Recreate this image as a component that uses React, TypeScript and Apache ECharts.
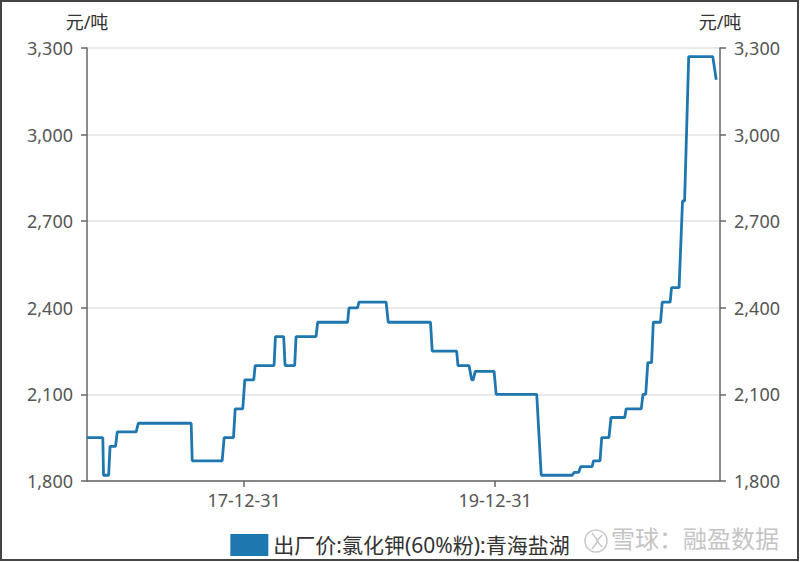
import React, { useEffect, useRef } from "react";
import * as echarts from "echarts";

// Price levels: each level holds its value from start date to end date
const levelStarts = ['2016-09-30','2016-11-17','2016-12-06','2016-12-27','2017-02-26','2017-08-02','2017-11-03','2017-12-05','2018-01-02','2018-02-01','2018-04-01','2018-04-29','2018-05-31','2018-08-02','2018-11-01','2018-11-30','2019-02-23','2019-07-01','2019-09-14','2019-10-24','2019-11-03','2020-01-03','2020-05-13','2020-08-17','2020-09-05','2020-10-12','2020-11-05','2020-12-02','2021-01-15','2021-03-05','2021-03-19','2021-04-04','2021-04-30','2021-05-27','2021-06-28','2021-07-16','2021-10-04'];
const levelEnds = ['2016-11-15','2016-12-02','2016-12-22','2017-02-20','2017-07-30','2017-10-28','2017-11-30','2017-12-27','2018-01-28','2018-03-28','2018-04-25','2018-05-27','2018-07-28','2018-10-28','2018-11-26','2019-02-17','2019-06-26','2019-09-10','2019-10-16','2019-10-28','2019-12-28','2020-04-30','2020-08-11','2020-08-30','2020-10-08','2020-10-31','2020-11-26','2021-01-11','2021-02-28','2021-03-13','2021-03-30','2021-04-25','2021-05-23','2021-06-18','2021-07-04','2021-09-24','2021-10-04'];
const levelValues = [1950,1820,1920,1970,2000,1870,1950,2050,2150,2200,2300,2200,2300,2350,2400,2420,2350,2250,2200,2150,2180,2100,1820,1830,1850,1870,1950,2020,2050,2100,2210,2350,2420,2470,2770,3270,3190];

const seriesName = "出厂价:氯化钾(60%粉):青海盐湖";
const unitName = "元/吨";
const xTickDates = ['2017-12-31', '2019-12-31'];
const xRange = ['2016-09-30', '2021-10-15'];
const yMin = 1800;
const yMax = 3300;
const yInterval = 300;

function toTime(s: string): number {
  const [y, m, d] = s.split('-').map(Number);
  return Date.UTC(y, m - 1, d);
}
function fmt(v: number): string {
  const d = new Date(v);
  const yy = String(d.getUTCFullYear() % 100).padStart(2, '0');
  const mm = String(d.getUTCMonth() + 1).padStart(2, '0');
  const dd = String(d.getUTCDate()).padStart(2, '0');
  return `${yy}-${mm}-${dd}`;
}

export default function App() {
  const ref = useRef<HTMLDivElement>(null);
  useEffect(() => {
    if (!ref.current) return;
    const chart = echarts.init(ref.current, undefined, { renderer: "svg" });
    const data: [number, number][] = [];
    levelValues.forEach((v, i) => {
      data.push([toTime(levelStarts[i]), v]);
      if (levelEnds[i] !== levelStarts[i]) data.push([toTime(levelEnds[i]), v]);
    });
    const font = "'Noto Sans', 'Noto Sans CJK SC', sans-serif";
    const yAxisCommon = {
      type: 'value',
      min: yMin,
      max: yMax,
      interval: yInterval,
      name: unitName,
      nameLocation: 'end',
      nameGap: 17,
      nameTextStyle: { color: '#333', fontSize: 18, fontFamily: font },
      axisLine: { show: true, lineStyle: { color: '#666', width: 1.5 } },
      axisTick: { show: true, length: 6, lineStyle: { color: '#666', width: 1.5 } },
      axisLabel: {
        color: '#555', fontSize: 18, fontFamily: font, margin: 14,
        formatter: (v: number) => v.toLocaleString('en-US'),
      },
    };
    const tickVals = xTickDates.map(toTime);
    chart.setOption({
      animation: false,
      backgroundColor: '#fff',
      grid: { left: 87, right: 80, top: 48, bottom: 81 },
      xAxis: {
        type: 'value',
        min: toTime(xRange[0]),
        max: toTime(xRange[1]),
        axisLine: { lineStyle: { color: '#666', width: 1.5 } },
        axisTick: { show: true, length: 6, customValues: tickVals, lineStyle: { color: '#666', width: 1.5 } },
        axisLabel: {
          customValues: tickVals,
          formatter: (v: number) => fmt(v),
          color: '#555', fontSize: 18, fontFamily: font, margin: 10,
        },
        splitLine: { show: false },
      },
      yAxis: [
        { ...yAxisCommon, position: 'left', splitLine: { show: true, lineStyle: { color: '#e3e3e3', width: 1.5 } } },
        { ...yAxisCommon, position: 'right', splitLine: { show: false } },
      ],
      legend: {
        bottom: 1,
        left: 'center',
        icon: 'rect',
        itemWidth: 38,
        itemHeight: 22,
        itemGap: 10,
        textStyle: { color: '#333', fontSize: 21, fontFamily: font },
        data: [seriesName],
      },
      series: [
        {
          name: seriesName,
          type: 'line',
          yAxisIndex: 0,
          showSymbol: false,
          symbol: 'none',
          data,
          lineStyle: { color: '#1f77b0', width: 2.8 },
          itemStyle: { color: '#1f77b0' },
        },
      ],
      graphic: [
        {
          type: 'rect',
          shape: { x: 1, y: 1, width: 797, height: 559 },
          style: { fill: 'none', stroke: '#444', lineWidth: 2 },
          silent: true,
        },
        {
          type: 'circle',
          shape: { cx: 596, cy: 541, r: 11 },
          style: { fill: 'none', stroke: '#c8c8c8', lineWidth: 1.5 },
          silent: true,
        },
        {
          type: 'polyline',
          shape: { points: [[592, 533], [598, 541], [592, 549]] },
          style: { fill: 'none', stroke: '#c8c8c8', lineWidth: 1.5 },
          silent: true,
        },
        {
          type: 'polyline',
          shape: { points: [[602, 535], [597, 541], [602, 547]] },
          style: { fill: 'none', stroke: '#c8c8c8', lineWidth: 1.5 },
          silent: true,
        },
        {
          type: 'text',
          left: 611,
          top: 525,
          style: { text: '雪球：融盈数据', fill: '#c4c4c4', fontSize: 24, fontFamily: "'Noto Sans CJK SC', sans-serif" },
          silent: true,
        },
      ],
    });
    return () => chart.dispose();
  }, []);
  return (
    <div
      ref={ref}
      style={{ position: 'fixed', left: 0, top: 0, width: 800, height: 562, background: '#fff' }}
    />
  );
}
